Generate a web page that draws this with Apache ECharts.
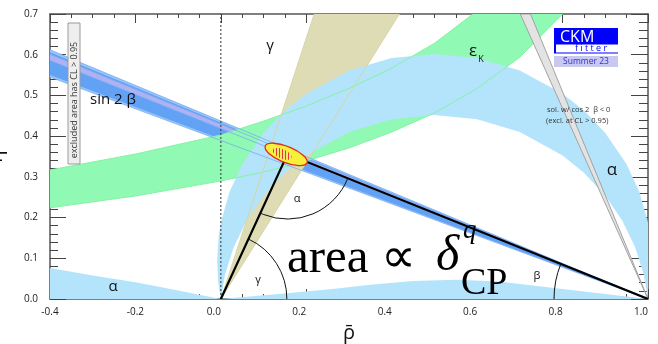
<!DOCTYPE html>
<html>
<head>
<meta charset="utf-8">
<script src="https://cdn.jsdelivr.net/npm/echarts@6/dist/echarts.min.js"></script>
<style>
  html, body { margin: 0; padding: 0; background: #fff; }
  #chart { width: 658px; height: 344px; }
</style>
</head>
<body>
<div id="chart"></div>
<script>
// unitarity triangle apex and vertices (rho, eta)
const apex = [0.156, 0.356]
const triangle = [[0, 0], apex, [1, 0]]

// sin2beta band: eta of each edge at rho = -0.4, every edge is a ray to (1, 0)
const sin2bOuter = [0.545, 0.612]
const sin2bInner = [0.550, 0.606]
const sin2bStripe = [0.586, 0.601]

// gamma band: rays from (0, 0) to these points on the top edge
const gammaEdges = [[0.2185, 0.7], [0.418, 0.7]]

// cos2beta < 0 solution: rays from (1, 0)
const grayEdges = [[0.701, 0.7], [0.725, 0.7]]

// epsilon_K band edges
const epsKUpper = [[-0.4, 0.317], [-0.2, 0.356], [0, 0.403], [0.1, 0.437], [0.2, 0.474],
  [0.3, 0.517], [0.4, 0.567], [0.5, 0.628], [0.59, 0.70]]
const epsKLower = [[-0.4, 0.224], [-0.2, 0.253], [0, 0.29], [0.1, 0.312], [0.2, 0.339],
  [0.3, 0.371], [0.4, 0.41], [0.5, 0.457], [0.6, 0.517], [0.7, 0.594], [0.8, 0.70]]

// alpha band (crescent), outer edge then inner edge
const alphaOuter = [[0, 0], [-0.006, 0.04], [-0.0087, 0.0936], [-0.005, 0.155], [0, 0.187],
  [0.02, 0.262], [0.05, 0.331], [0.1, 0.408], [0.15, 0.463], [0.2, 0.504], [0.3, 0.561],
  [0.4, 0.592], [0.5, 0.602], [0.6, 0.592], [0.7, 0.561], [0.8, 0.504], [0.85, 0.463],
  [0.9, 0.408], [0.95, 0.331], [0.98, 0.262], [1.0, 0.187], [1.0087, 0.0936], [1, 0]]
const alphaInner = [[1, 0], [0.99, 0.061], [0.97, 0.127], [0.94, 0.192], [0.9, 0.2535],
  [0.85, 0.31], [0.8, 0.3524], [0.7, 0.4103], [0.6, 0.4417], [0.5, 0.4518], [0.4, 0.4417],
  [0.3, 0.4103], [0.2, 0.3524], [0.15, 0.31], [0.1, 0.2535], [0.06, 0.192], [0.03, 0.127],
  [0.01, 0.061], [0, 0]]
const alphaLow = [[0, 0], [0.1, 0.009], [0.155, 0.014], [0.256, 0.024], [0.35, 0.035],
  [0.45, 0.044], [0.55, 0.047], [0.65, 0.043], [0.78, 0.027], [0.9, 0.012], [1.0, 0]]
const alphaLeft = [[-0.4, 0], [-0.4, 0.076], [-0.3, 0.058], [-0.2, 0.041], [-0.1, 0.021], [0, 0]]

// global fit, 95% (yellow) and 68% (hatched)
const fitOuter = [[0.2019, 0.3344], [0.1824, 0.3275], [0.1459, 0.3369], [0.1133, 0.3568],
  [0.104, 0.3757], [0.1234, 0.3826], [0.16, 0.3732], [0.1925, 0.3533]]
const fitInner = [[0.1649, 0.3459], [0.1555, 0.3418], [0.1391, 0.3462], [0.1253, 0.3565],
  [0.1222, 0.3666], [0.1316, 0.3708], [0.148, 0.3663], [0.1618, 0.356]]

const chart = echarts.init(document.getElementById("chart"), null, { renderer: "canvas" })

const rays = (from, edges) => [from, edges[0], edges[1]]
const leftRays = (etas) => [[1, 0], [-0.4, etas[0]], [-0.4, etas[1]]]

// hatch pattern for the 68% region
const hatch = document.createElement("canvas")
hatch.width = 3
hatch.height = 3
const hctx = hatch.getContext("2d")
hctx.fillStyle = "#f2e86a"
hctx.fillRect(0, 0, 3, 3)
hctx.fillStyle = "#e23a2a"
hctx.fillRect(0, 0, 1, 3)

const BLUE = "#b3e4fb"
const line = (c, w) => ({ stroke: c, lineWidth: w, fill: null })

// drawing order = list order
const layers = [
  { pts: leftRays(sin2bOuter), kind: "polygon", style: { fill: "#98c6f8" } },
  { pts: leftRays(sin2bInner), kind: "polygon", style: { fill: "#62a2f5" } },
  { pts: leftRays(sin2bStripe), kind: "polygon", style: { fill: "#aeb2f2" } },
  { pts: epsKUpper.concat(epsKLower.slice().reverse()), kind: "polygon", style: { fill: "#90f9b4" } },
  { pts: rays([0, 0], gammaEdges), kind: "polygon", style: { fill: "#dddcb4" } },
  { pts: alphaOuter.concat(alphaInner), kind: "polygon", style: { fill: BLUE } },
  { pts: alphaLow, kind: "polygon", style: { fill: BLUE } },
  { pts: alphaLeft, kind: "polygon", style: { fill: BLUE } },
  // boundaries seen through the other bands
  { pts: epsKUpper, kind: "polyline", style: line("#86f2a6", 1) },
  { pts: epsKLower, kind: "polyline", style: line("#86f2a6", 1) },
  { pts: [[0, 0], gammaEdges[0]], kind: "polyline", style: line("#d8d4a6", 1) },
  { pts: [[0, 0], gammaEdges[1]], kind: "polyline", style: line("#d8d4a6", 1) },
  ...[sin2bOuter[0], sin2bStripe[0], sin2bStripe[1], sin2bOuter[1]].map((e) =>
    ({ pts: [[-0.4, e], [1, 0]], kind: "polyline", style: line("#7aa9f2", 0.8) })),
  { pts: rays([1, 0], grayEdges), kind: "polygon", style: { fill: "#e3e3e3", stroke: "#a2a2a2", lineWidth: 1 } },
  { pts: [[0, 0], [0, 0.7]], kind: "polyline", style: Object.assign(line("#333", 1), { lineDash: [2, 2] }) },
  { pts: triangle, kind: "polyline", style: line("#000", 2.2) },
  { pts: fitOuter, kind: "polygon", style: { fill: "#f6f03a", stroke: "#e02a20", lineWidth: 1.3 }, smooth: 0.5 },
  { pts: fitInner, kind: "polygon", style: { fill: { image: hatch, repeat: "repeat" } }, smooth: 0.5 },
]

function angleArcs(api) {
  const O = api.coord(triangle[0])
  const A = api.coord(triangle[1])
  const B = api.coord(triangle[2])
  const aOA = Math.atan2(A[1] - O[1], A[0] - O[0])
  const aAO = Math.atan2(O[1] - A[1], O[0] - A[0])
  const aAB = Math.atan2(B[1] - A[1], B[0] - A[0])
  const aBA = Math.atan2(A[1] - B[1], A[0] - B[0])
  const st = line("#111", 1)
  return [
    { type: "arc", shape: { cx: O[0], cy: O[1], r: 66, startAngle: aOA, endAngle: 0, clockwise: true }, style: st },
    { type: "arc", shape: { cx: A[0], cy: A[1], r: 65, startAngle: aAB, endAngle: aAO, clockwise: true }, style: st },
    { type: "arc", shape: { cx: B[0], cy: B[1], r: 94, startAngle: Math.PI, endAngle: aBA + 2 * Math.PI, clockwise: true }, style: st },
  ]
}

const series = [{
  type: "custom",
  coordinateSystem: "cartesian2d",
  clip: true,
  silent: true,
  data: triangle,
  renderItem: (params, api) => {
    if (params.dataIndex !== 0) return null
    const children = layers.map((l) => ({
      type: l.kind,
      shape: { points: l.pts.map((p) => api.coord(p)), smooth: l.smooth || 0 },
      style: l.style,
    }))
    // angle arcs go just under the fit ellipse
    children.splice(children.length - 2, 0, ...angleArcs(api))
    children.forEach((c, i) => { c.z2 = i })
    return { type: "group", children: children }
  },
}]

const tickFont = "Open Sans"
const xAxisBase = {
  type: "value",
  min: -0.4,
  max: 1.0,
  interval: 0.2,
  splitLine: { show: false },
  axisLine: { onZero: false, lineStyle: { color: "#555", width: 1.5 } },
}
const yAxisBase = {
  type: "value",
  min: 0,
  max: 0.7,
  interval: 0.1,
  splitLine: { show: false },
  axisLine: { onZero: false, lineStyle: { color: "#555", width: 1.5 } },
}

const txt = (text, x, y, size, extra) => ({
  type: "text",
  z: 100,
  silent: true,
  style: Object.assign({
    text: text, x: x, y: y, fill: "#111",
    font: size + 'px "Open Sans"', align: "center", verticalAlign: "middle",
  }, extra || {}),
})

chart.setOption({
  animation: false,
  grid: { left: 50, right: 10, top: 14, bottom: 45, containLabel: false, outerBoundsMode: "none" },
  xAxis: [
    Object.assign({}, xAxisBase, {
      position: "bottom",
      name: "ρ̄",
      nameLocation: "middle",
      nameGap: 24,
      nameTextStyle: { fontSize: 20, fontFamily: tickFont, color: "#111" },
      axisTick: { inside: true, length: 10, lineStyle: { color: "#444" } },
      minorTick: { show: true, splitNumber: 4, length: 5, lineStyle: { color: "#444" } },
      axisLabel: {
        margin: 8,
        formatter: (v) => (v < 0 ? "{n|" + v.toFixed(1) + "}" : "{p|" + v.toFixed(1) + "}"),
        rich: {
          n: { fontSize: 10, fontFamily: tickFont, color: "#222" },
          p: { fontSize: 10, fontFamily: tickFont, color: "#222", padding: [0, 14, 0, 0] },
        },
      },
    }),
    Object.assign({}, xAxisBase, {
      position: "top",
      axisTick: { inside: true, length: 9, lineStyle: { color: "#444" } },
      minorTick: { show: true, splitNumber: 4, length: 4, lineStyle: { color: "#444" } },
      axisLabel: { show: false },
    }),
  ],
  yAxis: [
    Object.assign({}, yAxisBase, {
      position: "left",
      name: "η̄",
      nameLocation: "middle",
      nameRotate: 90,
      nameGap: 44,
      nameTextStyle: { fontSize: 20, fontFamily: tickFont, color: "#111" },
      axisTick: { inside: true, length: 16, lineStyle: { color: "#444" } },
      minorTick: { show: true, splitNumber: 5, length: 8, lineStyle: { color: "#444" } },
      axisLabel: { margin: 12, fontSize: 10, fontFamily: tickFont, color: "#222", formatter: (v) => v.toFixed(1) },
    }),
    Object.assign({}, yAxisBase, {
      position: "right",
      axisTick: { inside: true, length: 17, lineStyle: { color: "#444" } },
      minorTick: { show: true, splitNumber: 5, length: 9, lineStyle: { color: "#444" } },
      axisLabel: { show: false },
    }),
  ],
  series: series,
  graphic: [
    // exclusion note
    { type: "rect", z: 100, silent: true, shape: { x: 68, y: 23, width: 12, height: 141 },
      style: { fill: "#eeeeee", stroke: "#9a9a9a", lineWidth: 1 } },
    Object.assign(txt("excluded area has CL > 0.95", 0, 0, 9, { fill: "#333" }), { x: 74.5, y: 100, rotation: Math.PI / 2 }),
    // logo
    { type: "rect", z: 100, silent: true, shape: { x: 554, y: 28, width: 64, height: 25.5 }, style: { fill: "#0000ff" } },
    { type: "rect", z: 100, silent: true, shape: { x: 556, y: 44.5, width: 62, height: 8 }, style: { fill: "#ffffff" } },
    txt("CKM", 560, 37, 16, { fill: "#ffffff", align: "left" }),
    txt("f i t t e r", 591, 48.5, 9, { fill: "#0000ff" }),
    { type: "rect", z: 100, silent: true, shape: { x: 554, y: 56, width: 64, height: 11 }, style: { fill: "#c8c8f0" } },
    txt("Summer 23", 586, 61.5, 8.5, { fill: "#3030d0" }),
    txt("sol. w/ cos 2  β < 0", 547, 110, 7.5, { fill: "#333", align: "left" }),
    txt("(excl. at CL > 0.95)", 546, 121, 7.5, { fill: "#333", align: "left" }),
    // constraint labels
    txt("γ", 270, 46, 15),
    txt("ε", 473, 51, 17),
    txt("K", 481, 59.5, 9),
    txt("sin 2 β", 90, 100, 15, { align: "left" }),
    txt("α", 612, 170, 17),
    txt("α", 113, 287, 15),
    txt("α", 297, 199, 11),
    txt("γ", 258, 280, 11),
    txt("β", 537, 276, 11),
    // area formula
    txt("area ∝", 287, 259, 49, { align: "left", fill: "#000", font: '49px "Liberation Serif"' }),
    txt("δ", 436, 257, 50, { align: "left", fill: "#000", font: 'italic 50px "Liberation Serif"' }),
    txt("q", 463, 231, 27, { align: "left", fill: "#000", font: 'italic 27px "Liberation Serif"' }),
    txt("CP", 461, 284, 38, { align: "left", fill: "#000", font: '38px "Liberation Serif"' }),
  ],
})
</script>
</body>
</html>
